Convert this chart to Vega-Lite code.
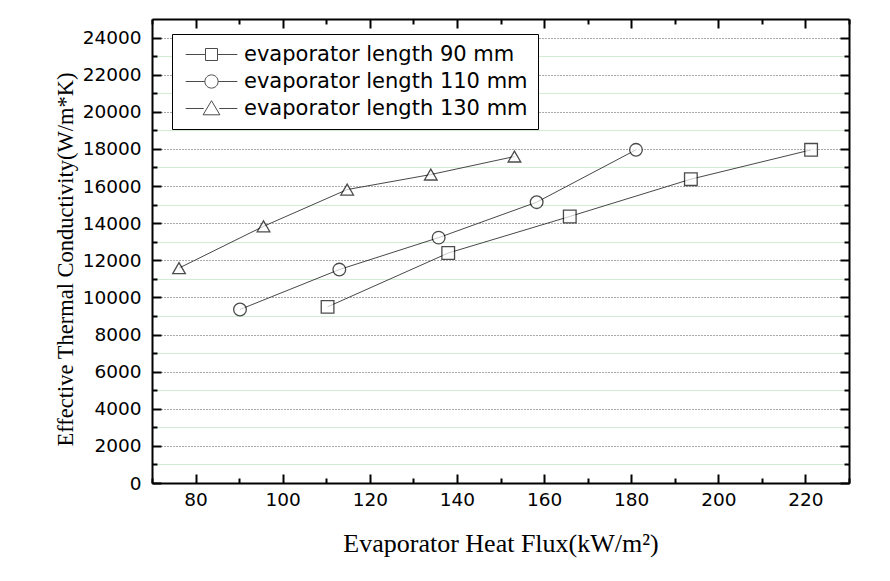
{
  "$schema": "https://vega.github.io/schema/vega-lite/v6.json",
  "width": 697,
  "height": 464,
  "autosize": {"type": "none"},
  "padding": {"left": 152, "top": 19, "right": 41, "bottom": 98},
  "background": "white",
  "config": {
    "view": {"stroke": null},
    "axis": {
      "domainColor": "black",
      "domainWidth": 2,
      "tickColor": "black",
      "tickWidth": 2,
      "labelFont": "DejaVu Sans",
      "labelFontSize": 18.5,
      "labelColor": "black",
      "titleFont": "Liberation Serif",
      "titleFontWeight": "normal",
      "titleColor": "black",
      "grid": false
    }
  },
  "data": {
    "values": [
      {"flux": 110.3, "k": 9490, "series": "evaporator length 90 mm"},
      {"flux": 138.0, "k": 12390, "series": "evaporator length 90 mm"},
      {"flux": 165.9, "k": 14360, "series": "evaporator length 90 mm"},
      {"flux": 193.7, "k": 16370, "series": "evaporator length 90 mm"},
      {"flux": 221.3, "k": 17950, "series": "evaporator length 90 mm"},
      {"flux": 90.2, "k": 9350, "series": "evaporator length 110 mm"},
      {"flux": 113.0, "k": 11500, "series": "evaporator length 110 mm"},
      {"flux": 135.8, "k": 13220, "series": "evaporator length 110 mm"},
      {"flux": 158.3, "k": 15130, "series": "evaporator length 110 mm"},
      {"flux": 181.1, "k": 17950, "series": "evaporator length 110 mm"},
      {"flux": 76.2, "k": 11580, "series": "evaporator length 130 mm"},
      {"flux": 95.6, "k": 13830, "series": "evaporator length 130 mm"},
      {"flux": 114.8, "k": 15810, "series": "evaporator length 130 mm"},
      {"flux": 134.0, "k": 16620, "series": "evaporator length 130 mm"},
      {"flux": 153.2, "k": 17590, "series": "evaporator length 130 mm"}
    ]
  },
  "layer": [
    {
      "mark": {"type": "line", "stroke": "#333333", "strokeWidth": 0.9},
      "encoding": {
        "x": {
          "field": "flux", "type": "quantitative",
          "scale": {"domain": [70, 230], "nice": false, "zero": false},
          "axis": {
            "orient": "bottom",
            "values": [80, 100, 120, 140, 160, 180, 200, 220],
            "tickSize": -9,
            "labelPadding": 16,
            "title": "Evaporator Heat Flux(kW/m²)",
            "titleFontSize": 26,
            "titlePadding": 22
          }
        },
        "y": {
          "field": "k", "type": "quantitative",
          "scale": {"domain": [0, 25000], "nice": false},
          "axis": {
            "orient": "left",
            "values": [0, 2000, 4000, 6000, 8000, 10000, 12000, 14000, 16000, 18000, 20000, 22000, 24000],
            "tickSize": -9,
            "labelPadding": 20,
            "format": "d",
            "grid": true,
            "gridColor": "#555555",
            "gridDash": [1, 2],
            "gridWidth": 1,
            "title": "Effective Thermal Conductivity(W/m*K)",
            "titleFontSize": 22.5,
            "titlePadding": 5,
            "titleY": 240
          }
        },
        "detail": {"field": "series"}
      }
    },
    {
      "mark": {"type": "point", "filled": true, "fill": "white", "stroke": "black", "strokeWidth": 1.3, "size": 160},
      "encoding": {
        "x": {
          "field": "flux", "type": "quantitative",
          "axis": {
            "orient": "bottom",
            "values": [70, 90, 110, 130, 150, 170, 190, 210, 230],
            "tickSize": -5,
            "labels": false,
            "domain": false,
            "title": null
          }
        },
        "y": {
          "field": "k", "type": "quantitative",
          "axis": {
            "orient": "left",
            "values": [1000, 3000, 5000, 7000, 9000, 11000, 13000, 15000, 17000, 19000, 21000, 23000],
            "tickSize": -5,
            "labels": false,
            "domain": false,
            "grid": true,
            "gridColor": "#a8d8a8",
            "gridDash": [1, 1],
            "gridWidth": 1,
            "title": null
          }
        },
        "shape": {
          "field": "series", "type": "nominal",
          "scale": {
            "domain": ["evaporator length 90 mm", "evaporator length 110 mm", "evaporator length 130 mm"],
            "range": ["square", "circle", "triangle-up"]
          },
          "legend": null
        }
      }
    },
    {
      "transform": [{"filter": "datum.k < 0"}],
      "mark": {"type": "point", "color": "black", "strokeWidth": 1},
      "encoding": {
        "x": {
          "field": "flux", "type": "quantitative",
          "axis": {
            "orient": "top",
            "values": [80, 100, 120, 140, 160, 180, 200, 220],
            "tickSize": -9,
            "labels": false,
            "title": null
          }
        },
        "y": {
          "field": "k", "type": "quantitative",
          "axis": {
            "orient": "right",
            "values": [0, 2000, 4000, 6000, 8000, 10000, 12000, 14000, 16000, 18000, 20000, 22000, 24000],
            "tickSize": -9,
            "labels": false,
            "title": null
          }
        },
        "shape": {
          "field": "series", "type": "nominal",
          "scale": {
            "domain": ["evaporator length 90 mm", "evaporator length 110 mm", "evaporator length 130 mm"],
            "range": [
              "M-4.3,0H-1M1,0H4.3M-1,-1H1V1H-1Z",
              "M-4.3,0H-1.1M1.1,0H4.3M1.1,0A1.1,1.1,0,1,1,-1.1,0A1.1,1.1,0,1,1,1.1,0Z",
              "M-4.3,0H-1.3M1.3,0H4.3M0,-1.3L1.4,1.05H-1.4Z"
            ]
          },
          "legend": {
            "title": null,
            "orient": "none",
            "legendX": 20,
            "legendY": 15,
            "strokeColor": "black",
            "fillColor": "white",
            "padding": 10,
            "symbolSize": 144,
            "symbolStrokeColor": "black",
            "symbolStrokeWidth": 1,
            "symbolOffset": 19,
            "labelOffset": 22,
            "labelFont": "DejaVu Sans",
            "labelFontSize": 21,
            "labelColor": "black",
            "labelLimit": 400,
            "rowPadding": 5
          }
        }
      }
    },
    {
      "mark": {"type": "point", "opacity": 0},
      "encoding": {
        "x": {
          "field": "flux", "type": "quantitative",
          "axis": {
            "orient": "top",
            "values": [70, 90, 110, 130, 150, 170, 190, 210, 230],
            "tickSize": -5,
            "labels": false,
            "domain": false,
            "title": null
          }
        },
        "y": {
          "field": "k", "type": "quantitative",
          "axis": {
            "orient": "right",
            "values": [1000, 3000, 5000, 7000, 9000, 11000, 13000, 15000, 17000, 19000, 21000, 23000],
            "tickSize": -5,
            "labels": false,
            "domain": false,
            "title": null
          }
        }
      }
    }
  ],
  "resolve": {
    "axis": {"x": "independent", "y": "independent"},
    "scale": {"shape": "independent"},
    "legend": {"shape": "independent"}
  }
}
